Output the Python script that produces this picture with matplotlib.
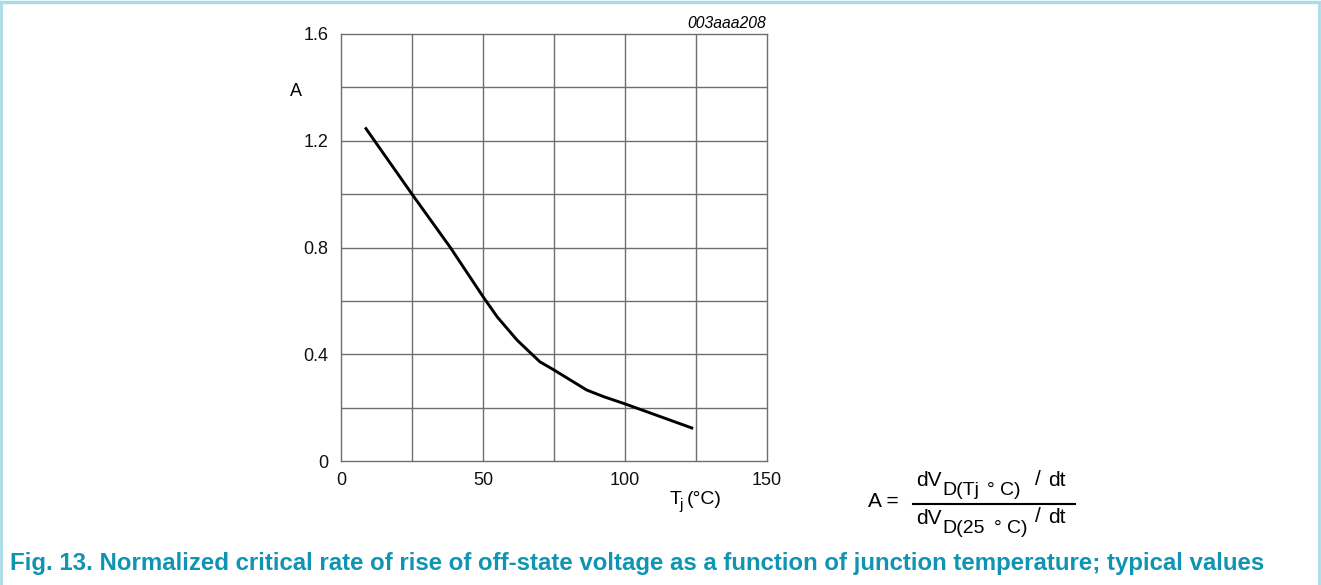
import matplotlib
matplotlib.use('Agg')
import matplotlib.pyplot as plt
from matplotlib.lines import Line2D

plt.rcParams['font.family'] = ['Liberation Sans', 'DejaVu Sans']

# Curve: junction temperature (°C) vs normalized A
tj = [8.5, 25, 38.5, 50, 55, 62, 70, 75, 86.5, 92.5, 100, 124]
a_norm = [1.25, 1.0, 0.8, 0.616, 0.54, 0.453, 0.372, 0.341, 0.266, 0.241, 0.214, 0.122]

x_ticks = [0, 50, 100, 150]
y_ticks = [0, 0.4, 0.8, 1.2, 1.6]
y_tick_labels = ['0', '0.4', '0.8', '1.2', '1.6']
caption = ('Fig. 13. Normalized critical rate of rise of off-state voltage '
           'as a function of junction temperature; typical values')

W, H = 1321, 585
fig = plt.figure(figsize=(W / 100, H / 100), dpi=100)


def px(x, y):
    # pixel position (from top-left) -> figure fraction
    return x / W, 1 - y / H


def put(x, y, s, size, **kw):
    fx, fy = px(x, y)
    kw.setdefault('ha', 'left')
    kw.setdefault('va', 'baseline')
    fig.text(fx, fy, s, fontsize=size, **kw)


# light frame around the figure
frame_col = '#a9dde6'
fig.add_artist(Line2D([0.001, 0.999], [0.997, 0.997], color=frame_col, lw=2.5, transform=fig.transFigure))
fig.add_artist(Line2D([0.001, 0.001], [0.0, 0.997], color=frame_col, lw=2.0, transform=fig.transFigure))
fig.add_artist(Line2D([0.9986, 0.9986], [0.0, 0.997], color=frame_col, lw=2.0, transform=fig.transFigure))

ax = fig.add_axes([341 / W, 1 - 461 / H, (767 - 341) / W, (461 - 34) / H])
ax.set_xlim(0, 150)
ax.set_ylim(0, 1.6)

grid_col = '#6e6e6e'
for x in range(25, 150, 25):
    ax.axvline(x, color=grid_col, lw=1.0, zorder=1)
for y in [0.2, 0.4, 0.6, 0.8, 1.0, 1.2, 1.4]:
    ax.axhline(y, color=grid_col, lw=1.0, zorder=1)
for s in ax.spines.values():
    s.set_color(grid_col)
    s.set_linewidth(1.0)

ax.plot(tj, a_norm, color='black', lw=2.1, zorder=3, solid_capstyle='butt')

ax.set_xticks(x_ticks)
ax.set_xticklabels([str(v) for v in x_ticks])
ax.set_yticks(y_ticks)
ax.set_yticklabels(y_tick_labels)
ax.tick_params(length=0, labelsize=13, colors='#111111')
ax.tick_params(axis='y', pad=9)
ax.tick_params(axis='x', pad=8)

# axis labels
put(290, 95.5, 'A', 13)
put(669.5, 504, 'T', 14)
put(679.5, 508.5, 'j', 11)
put(686.5, 504, '(°C)', 14)
put(766, 27.5, '003aaa208', 11.3, ha='right', style='italic')

# formula A = dV_D(Tj °C)/dt over dV_D(25 °C)/dt
put(868, 507, 'A =', 15)
put(916, 486, 'dV', 15)
put(942, 495, 'D(Tj', 14)
put(987, 495, '°', 14)
put(1000, 495, 'C)', 14)
put(1035, 485, '/', 15)
put(1048, 486, 'dt', 15)
fig.add_artist(Line2D([913 / W, 1075 / W], [1 - 504 / H, 1 - 504 / H], color='black', lw=1.5,
                      transform=fig.transFigure))
put(916, 524, 'dV', 15)
put(942, 533, 'D(25', 14)
put(994, 533, '°', 14)
put(1007, 533, 'C)', 14)
put(1035, 522, '/', 15)
put(1048, 523, 'dt', 15)

put(10, 570, caption, 17.3, fontweight='bold', color='#0f94b2')

fig.savefig('out.png', dpi=100)
